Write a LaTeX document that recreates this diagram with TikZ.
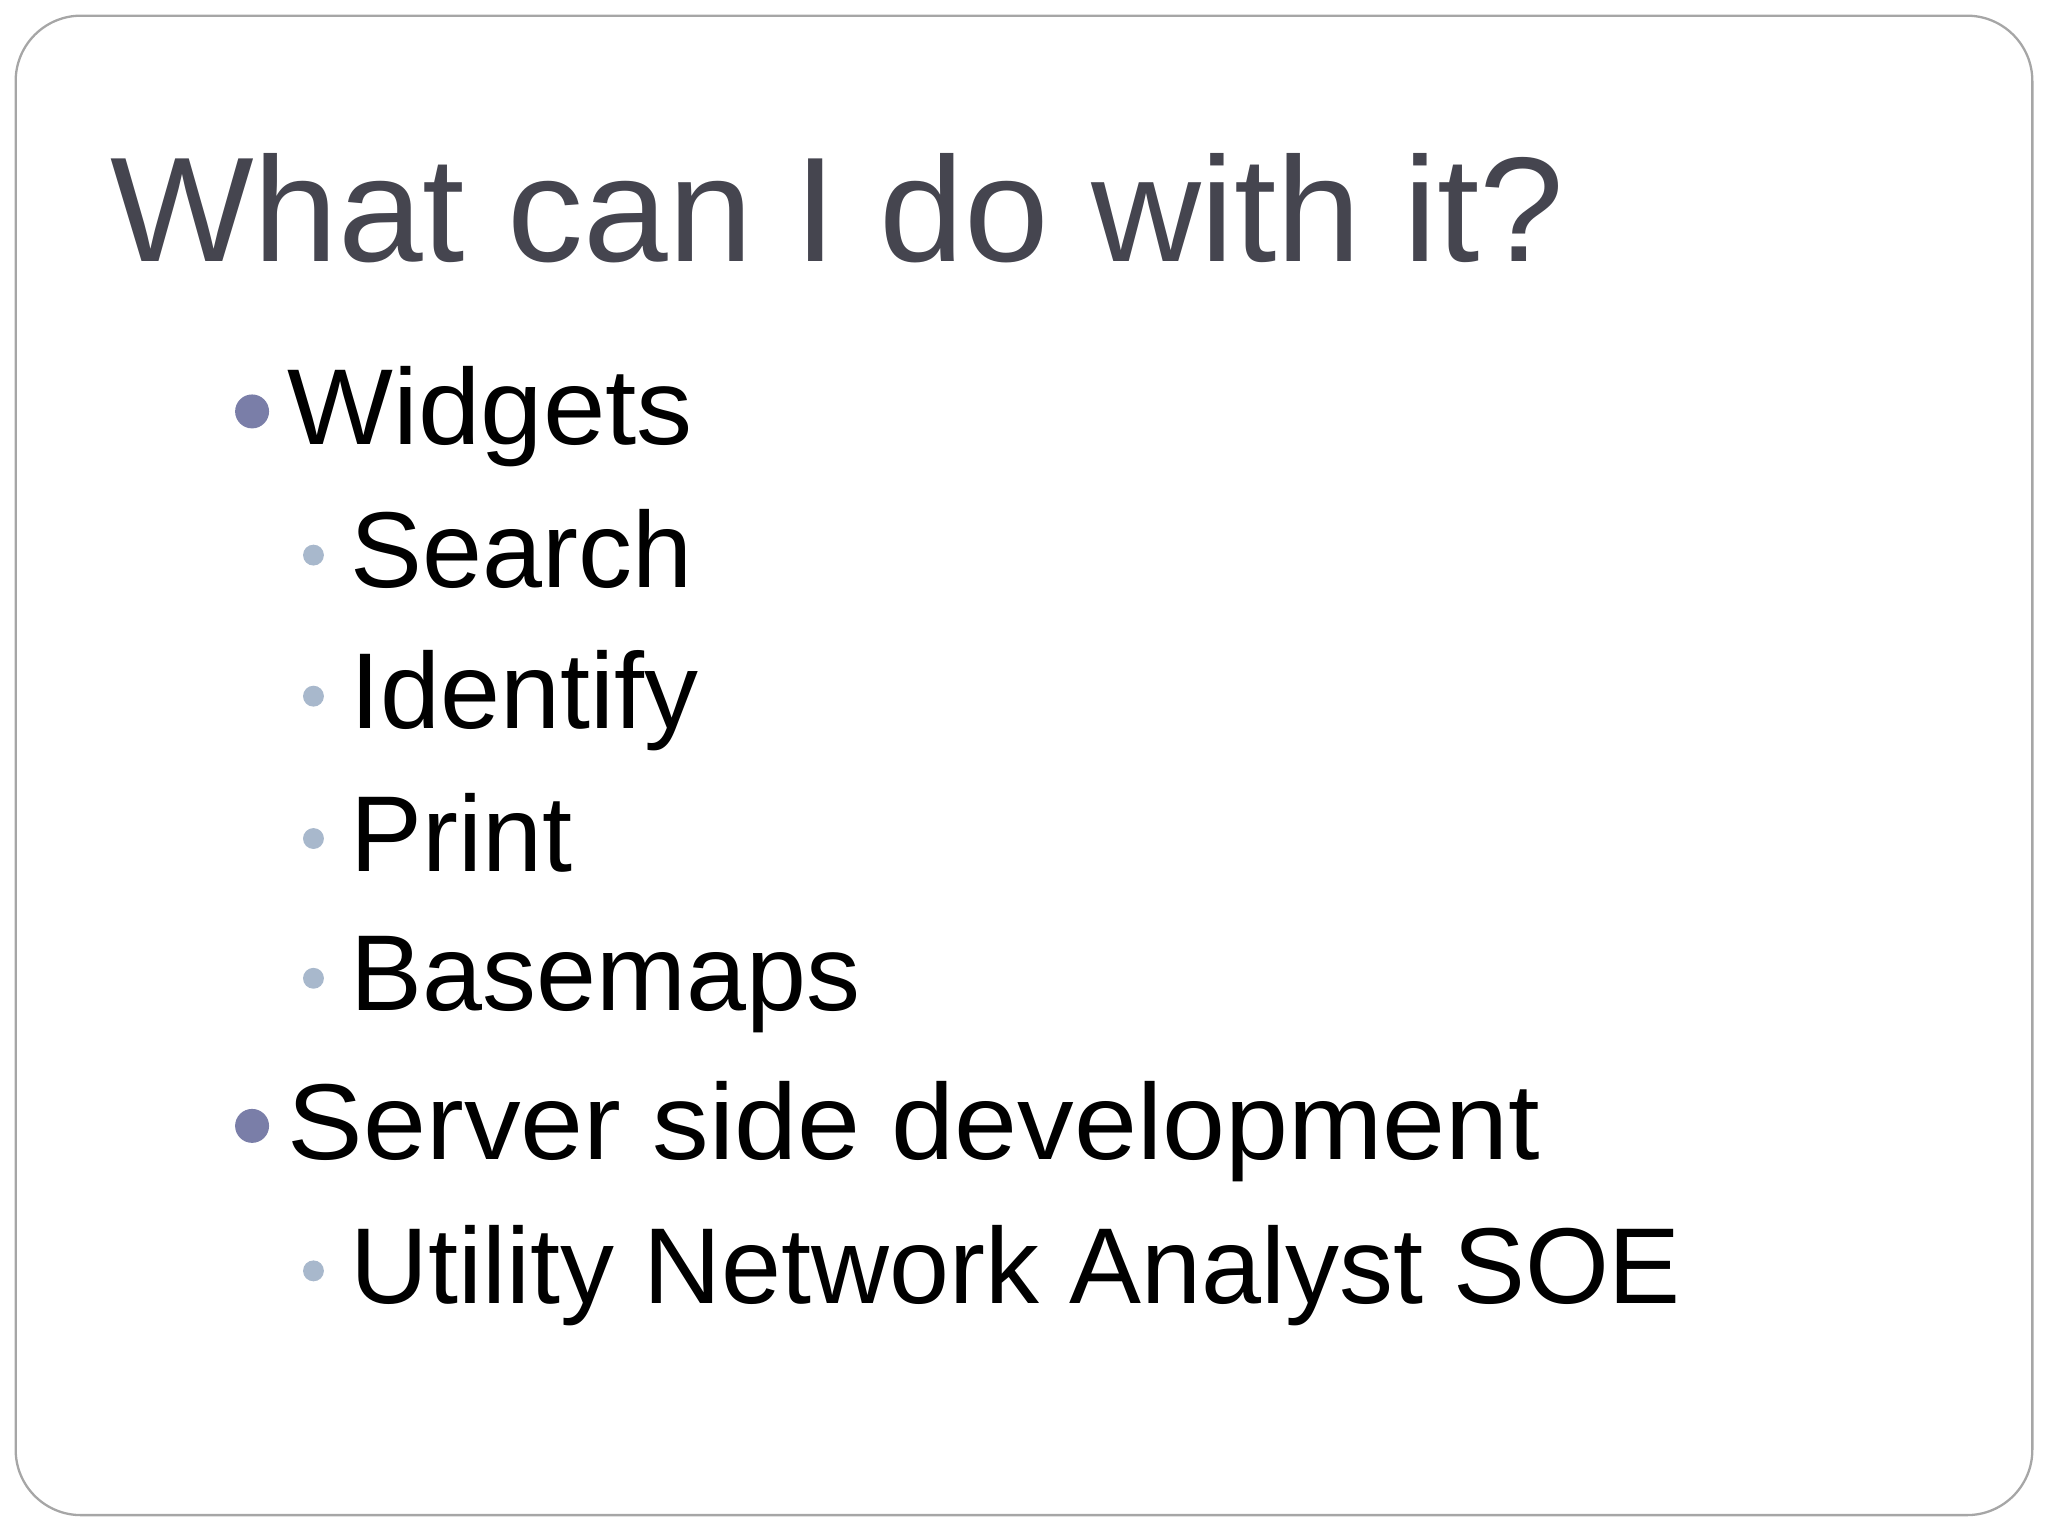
\documentclass[tikz,border=0pt]{standalone}
\usepackage{fontspec}
\usepackage{graphicx}
\setmainfont{Liberation Sans}
\definecolor{titlec}{HTML}{45454F}
\definecolor{b1}{HTML}{7A7EA8}
\definecolor{b2}{HTML}{A8B8CC}
\begin{document}
\begin{tikzpicture}[x=0.02cm,y=-0.02cm,
  txt/.style={anchor=base west,inner sep=0pt,font=\fontsize{47}{50}\selectfont},
  big/.style={circle,fill=b1,inner sep=0pt,minimum size=0.52cm},
  small/.style={circle,fill=b2,inner sep=0pt,minimum size=0.32cm}]
\useasboundingbox (0,0) rectangle (1568,1176);
\draw[gray!70,line width=1pt,rounded corners=1cm] (12,12) rectangle (1556,1160);
\node[anchor=base west,inner sep=0pt,text=titlec,font=\fontsize{65}{70}\selectfont] (title) at (84,200) {\scalebox{1.02}[1]{What can I do with it?}};
\node[big] (bw) at (193,315) {};
\node[txt] (w) at (220,340) {\scalebox{1.04}[1]{Widgets}};
\node[small] (bs) at (240,425) {};
\node[txt] (s) at (268,450) {Search};
\node[small] (bi) at (240,533) {};
\node[txt] (i) at (268,558) {Identify};
\node[small] (bp) at (240,642) {};
\node[txt] (p) at (268,667) {Print};
\node[small] (bb) at (240,749) {};
\node[txt] (b) at (268,774) {Basemaps};
\node[big] (bsd) at (193,862) {};
\node[txt] (sd) at (220,888) {\scalebox{1.05}[1]{Server side development}};
\node[small] (bu) at (240,973) {};
\node[txt] (u) at (268,998) {Utility Network Analyst SOE};
\end{tikzpicture}
\end{document}
